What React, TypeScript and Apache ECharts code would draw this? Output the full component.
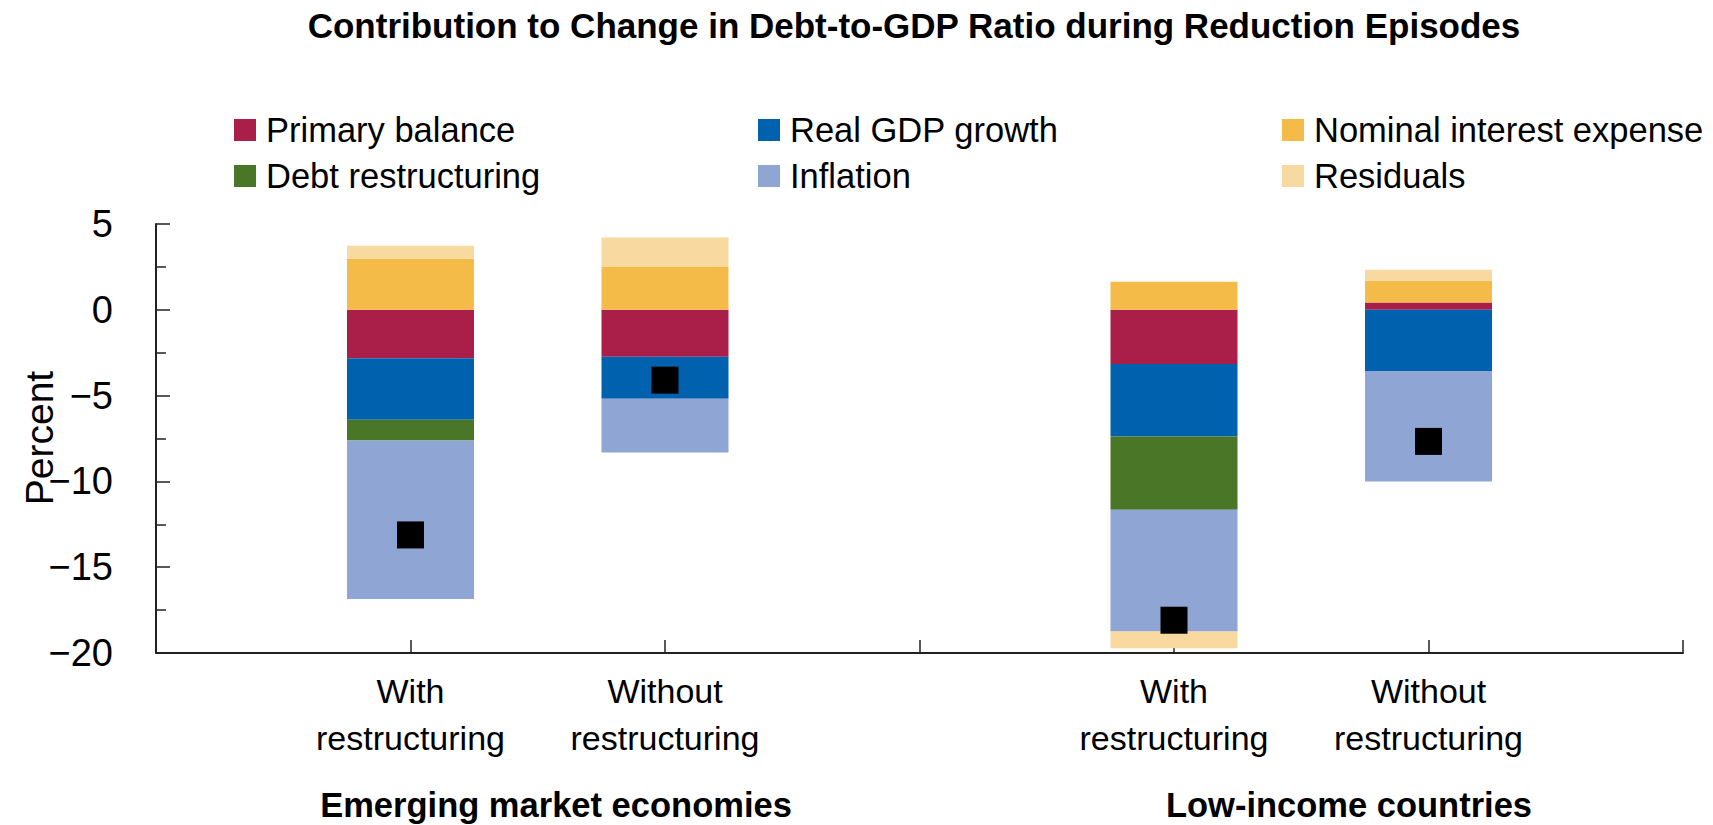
import React, { useEffect, useRef } from 'react';
import * as echarts from 'echarts';

const titleText = 'Contribution to Change in Debt-to-GDP Ratio during Reduction Episodes';
const yAxisTitle = 'Percent';
const categories = ['', 'With\nrestructuring', 'Without\nrestructuring', '', 'With\nrestructuring', 'Without\nrestructuring', ''];
const groupLabels = ['Emerging market economies', 'Low-income countries'];
const seriesNames = ['Primary balance', 'Real GDP growth', 'Nominal interest expense', 'Debt restructuring', 'Inflation', 'Residuals'];
const seriesColors = ['#AA1F4A', '#0061AF', '#F4BB48', '#4A7628', '#8FA5D3', '#F8DAA0'];

const primaryBalance = [null, -2.82, -2.74, null, -3.16, 0.43, null];
const realGdpGrowth = [null, -3.59, -2.44, null, -4.22, -3.57, null];
const nominalInterest = [null, 2.97, 2.5, null, 1.63, 1.26, null];
const debtRestructuring = [null, -1.2, null, null, -4.27, null, null];
const inflation = [null, -9.24, -3.13, null, -7.1, -6.43, null];
const residuals = [null, 0.76, 1.71, null, -0.97, 0.64, null];
const totalChange = [null, -13.12, -4.1, null, -18.09, -7.67, null];

const yMin = -20;
const yMax = 5;
const yInterval = 5;

const FONT = "'Liberation Sans', Arial, Helvetica, sans-serif";

export default function App() {
  const ref = useRef<HTMLDivElement>(null);
  useEffect(() => {
    if (!ref.current) return;
    const chart = echarts.init(ref.current, undefined, { renderer: 'svg' });
    const values = [primaryBalance, realGdpGrowth, nominalInterest, debtRestructuring, inflation, residuals];
    const barSeries = seriesNames.map((name, i) => ({
      name,
      type: 'bar',
      stack: 'total',
      barWidth: 127,
      data: values[i],
      itemStyle: { color: seriesColors[i] },
      emphasis: { disabled: true },
    }));
    const legendBase = {
      orient: 'vertical',
      top: 112,
      padding: 0,
      itemWidth: 22,
      itemHeight: 22,
      itemGap: 10,
      icon: 'rect',
      selectedMode: false,
      textStyle: { fontFamily: FONT, fontSize: 34.5, color: '#000', lineHeight: 36, padding: [0, 0, 0, 5] },
    };
    const centeredText = (text: string, x: number, y: number, font: string, rotation = 0) => ({
      type: 'text',
      x,
      y,
      rotation,
      style: {
        text,
        font,
        fill: '#000',
        textAlign: 'center',
        textVerticalAlign: 'middle',
        align: 'center',
        verticalAlign: 'middle',
      },
    });
    chart.setOption({
      animation: false,
      backgroundColor: '#fff',
      textStyle: { fontFamily: FONT },
      legend: [
        { ...legendBase, left: 234, data: [seriesNames[0], seriesNames[3]] },
        { ...legendBase, left: 758, data: [seriesNames[1], seriesNames[4]] },
        { ...legendBase, left: 1282, data: [seriesNames[2], seriesNames[5]] },
      ],
      grid: { left: 156, right: 30, top: 224, bottom: 172, containLabel: false, outerBoundsMode: 'none' },
      xAxis: {
        type: 'category',
        data: categories,
        boundaryGap: false,
        axisLine: { onZero: false, lineStyle: { color: '#222', width: 2 } },
        axisTick: { inside: true, length: 13, interval: 0, lineStyle: { color: '#222', width: 1.5 } },
        axisLabel: {
          interval: 0,
          margin: 14,
          fontFamily: FONT,
          fontSize: 34,
          lineHeight: 47,
          color: '#000',
        },
        splitLine: { show: false },
      },
      yAxis: {
        type: 'value',
        min: yMin,
        max: yMax,
        interval: yInterval,
        axisLine: { show: true, lineStyle: { color: '#222', width: 2 } },
        axisTick: { show: true, inside: true, length: 14, lineStyle: { color: '#222', width: 1.5 } },
        minorTick: { show: true, splitNumber: 2, length: 10, lineStyle: { color: '#222', width: 1.5 } },
        axisLabel: {
          margin: 43,
          fontFamily: FONT,
          fontSize: 38,
          color: '#000',
          formatter: (v: number) => (v < 0 ? '\u2212' + Math.abs(v) : String(v)),
        },
        splitLine: { show: false },
      },
      graphic: [
        centeredText(titleText, 914, 25, `bold 35px ${FONT}`),
        centeredText(groupLabels[0], 556, 805, `bold 34.5px ${FONT}`),
        centeredText(groupLabels[1], 1349, 805, `bold 34.5px ${FONT}`),
        centeredText(yAxisTitle, 39, 438, `39px ${FONT}`, Math.PI / 2),
      ],
      series: [
        ...barSeries,
        {
          name: 'Total change',
          type: 'scatter',
          data: totalChange,
          symbol: 'rect',
          symbolSize: 27,
          itemStyle: { color: '#000', opacity: 1 },
          z: 10,
          emphasis: { disabled: true },
        },
      ],
    });
    return () => chart.dispose();
  }, []);
  return <div ref={ref} style={{ position: 'fixed', left: 0, top: 0, width: 1713, height: 825 }} />;
}
